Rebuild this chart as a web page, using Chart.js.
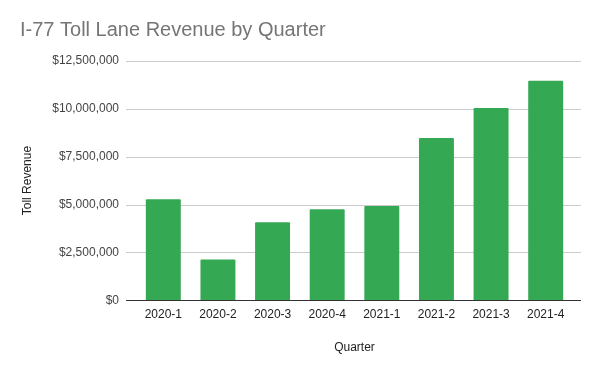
<!DOCTYPE html>
<html lang="en">
  <head>
    <meta charset="utf-8" />
    <title>I-77 Toll Lane Revenue</title>
    <script src="https://cdn.jsdelivr.net/npm/chart.js@4/dist/chart.umd.min.js"></script>
    <style>
      html, body { margin: 0; padding: 0; background: #fff; }
      #wrap { width: 600px; height: 371px; }
    </style>
  </head>
  <body>
    <div id="wrap"><canvas id="barChart"></canvas></div>
    <script>
      // quarters and revenue
      const quarters = ["2020-1", "2020-2", "2020-3", "2020-4", "2021-1", "2021-2", "2021-3", "2021-4"];
      const revenue = [5270000, 2130000, 4070000, 4750000, 4920000, 8470000, 10040000, 11470000];
      const yMax = 12500000;
      const yStep = 2500000;

      const font = "'Liberation Sans', Arial, sans-serif";

      // gridlines run a bit past the plot on both sides, like the original
      const extendedGrid = {
        id: "extendedGrid",
        beforeDatasetsDraw(chart) {
          const { ctx, chartArea, scales } = chart;
          const y = scales.y;
          ctx.save();
          ctx.strokeStyle = "#cccccc";
          ctx.lineWidth = 1;
          y.ticks.forEach((t) => {
            if (t.value === 0) return;
            const py = Math.round(y.getPixelForValue(t.value)) + 0.5;
            ctx.beginPath();
            ctx.moveTo(chartArea.left - 10, py);
            ctx.lineTo(chartArea.right + 8, py);
            ctx.stroke();
          });
          ctx.restore();
        },
        afterDatasetsDraw(chart) {
          const { ctx, chartArea, scales } = chart;
          const py = Math.round(scales.y.getPixelForValue(0)) + 0.5;
          ctx.save();
          ctx.strokeStyle = "#333333";
          ctx.lineWidth = 1;
          ctx.beginPath();
          ctx.moveTo(chartArea.left - 10, py);
          ctx.lineTo(chartArea.right + 8, py);
          ctx.stroke();
          ctx.restore();
        },
      };

      const ctx = document.getElementById("barChart").getContext("2d");
      const chart = new Chart(ctx, {
        type: "bar",
        data: {
          labels: quarters,
          datasets: [
            {
              label: "Toll Revenue",
              data: revenue,
              backgroundColor: "#34a853",
              borderRadius: 1,
              categoryPercentage: 1,
              barPercentage: 0.64,
            },
          ],
        },
        options: {
          responsive: true,
          maintainAspectRatio: false,
          animation: false,
          layout: { padding: { left: 20, right: 27, top: 0, bottom: 16 } },
          plugins: {
            legend: { display: false },
            tooltip: { enabled: false },
            title: {
              display: true,
              text: "I-77 Toll Lane Revenue by Quarter",
              align: "start",
              color: "#757575",
              font: { family: font, size: 20, weight: "normal" },
              padding: { top: 18, bottom: 19 },
            },
          },
          scales: {
            x: {
              grid: { display: false, drawTicks: false },
              border: { display: false },
              ticks: {
                color: "#222222",
                font: { family: font, size: 12 },
                padding: 7,
                maxRotation: 0,
              },
              title: {
                display: true,
                text: "Quarter",
                color: "#222222",
                font: { family: font, size: 12 },
                padding: { top: 12, bottom: 0 },
              },
            },
            y: {
              min: 0,
              max: yMax,
              grid: { display: false, drawTicks: false },
              border: { display: false },
              ticks: {
                stepSize: yStep,
                color: "#444444",
                font: { family: font, size: 12 },
                padding: 17,
                callback: (v) => "$" + Number(v).toLocaleString("en-US"),
              },
              title: {
                display: true,
                text: "Toll Revenue",
                color: "#222222",
                font: { family: font, size: 12 },
                padding: { top: 0, bottom: 0 },
              },
              afterFit(scale) {
                scale.width = 116;
              },
            },
          },
        },
        plugins: [extendedGrid],
      });
    </script>
  </body>
</html>
